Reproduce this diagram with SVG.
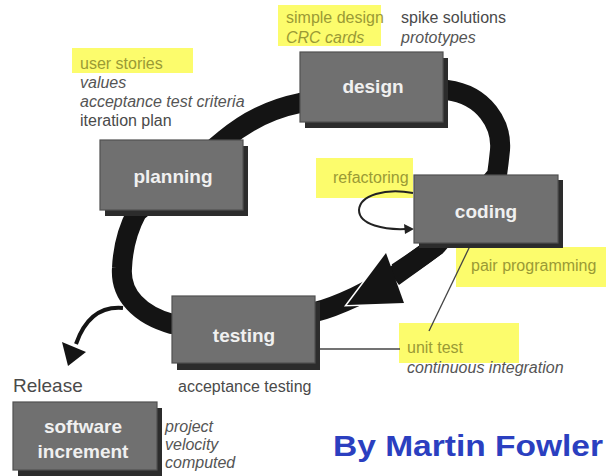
<svg xmlns="http://www.w3.org/2000/svg" width="606" height="476" viewBox="0 0 606 476">
<style>
.box{fill:#707070;stroke:#505050;stroke-width:1.2}
.shadow{fill:#2c2c2c}
.lbl{font-family:"Liberation Sans",Arial,sans-serif;font-weight:bold;font-size:19px;fill:#f0f0f0;text-anchor:middle}
.ann{font-family:"Liberation Sans",Arial,sans-serif;font-size:16px;fill:#4a4a4a}
.big{font-size:19px}
.it{font-style:italic;fill:#555}
.hl{fill:#fcfc6c}
.hlt{fill:#9a9a35}
.band{fill:none;stroke:#141414;stroke-width:20}
.thin{fill:none;stroke:#444;stroke-width:1.3}
</style>
<rect width="606" height="476" fill="#ffffff"/>

<g id="highlights">
<rect class="hl" x="72" y="48" width="121" height="25"/>
<rect class="hl" x="278" y="5" width="103" height="41"/>
<rect class="hl" x="316" y="158" width="97" height="40"/>
<rect class="hl" x="456" y="247" width="150" height="40"/>
<rect class="hl" x="399" y="323" width="120" height="40"/>
</g>

<g id="connectors">
<path class="band" d="M 224,140 C 250,118 275,108 300,103 L 447,90 C 485,95 502,125 500,150 C 499,160 498,168 497,175 L 437,245 C 410,265 380,285 355,297 C 340,304 328,309 315,312 L 172,324 C 140,315 120,295 122,268 C 123,245 130,225 137,212 Z"/>
<polygon points="386,253 404,303 347,305" fill="#141414" stroke="#ffffff" stroke-width="3" stroke-linejoin="miter"/>
<path d="M 437,245 C 420,258 405,268 393,277" fill="none" stroke="#141414" stroke-width="20"/>
<polygon points="386,253 404,303 347,305" fill="#141414"/>
<path d="M 123,308 C 100,306 85,318 76,344" fill="none" stroke="#141414" stroke-width="4"/>
<polygon points="68,366 62,342 86,352" fill="#141414"/>
<path d="M 413,193 C 385,188 360,195 359,210 C 359,225 385,230 406,229" fill="none" stroke="#222" stroke-width="2"/>
<polygon points="414,229 404,224 405,234" fill="#222"/>
<line class="thin" x1="470" y1="246" x2="429" y2="331"/>
<line class="thin" x1="318" y1="349" x2="400" y2="349"/>
</g>

<g id="design">
<rect class="shadow" x="305" y="58" width="143" height="70"/>
<rect class="box" x="300" y="52" width="143" height="70"/>
<text class="lbl" x="373" y="93">design</text>
</g>
<g id="planning">
<rect class="shadow" x="105" y="146" width="143" height="70"/>
<rect class="box" x="100" y="140" width="143" height="70"/>
<text class="lbl" x="173" y="183">planning</text>
</g>
<g id="coding">
<rect class="shadow" x="419" y="180" width="144" height="68"/>
<rect class="box" x="414" y="175" width="144" height="68"/>
<text class="lbl" x="486" y="218">coding</text>
</g>
<g id="testing">
<rect class="shadow" x="177" y="302" width="143" height="68"/>
<rect class="box" x="172" y="296" width="143" height="67"/>
<text class="lbl" x="244" y="342">testing</text>
</g>
<g id="software-increment">
<rect class="shadow" x="18" y="408" width="144" height="68"/>
<rect class="box" x="13" y="402" width="144" height="68"/>
<text class="lbl" x="83" y="433">software</text>
<text class="lbl" x="83" y="458">increment</text>
</g>

<g id="annotations">
<text class="ann hlt" x="80" y="69">user stories</text>
<text class="ann it" x="80" y="88">values</text>
<text class="ann it" x="80" y="107">acceptance test criteria</text>
<text class="ann" x="80" y="126">iteration plan</text>
<text class="ann hlt" x="286" y="23">simple design</text>
<text class="ann hlt" x="286" y="43" font-style="italic">CRC cards</text>
<text class="ann" x="401" y="23">spike solutions</text>
<text class="ann it" x="401" y="43">prototypes</text>
<text class="ann hlt" x="333" y="183">refactoring</text>
<text class="ann hlt" x="471" y="271">pair programming</text>
<text class="ann hlt" x="407" y="353">unit test</text>
<text class="ann it" x="407" y="373">continuous integration</text>
<text class="ann" x="178" y="392">acceptance testing</text>
<text class="ann big" x="13" y="392">Release</text>
<text class="ann it" x="165" y="432">project</text>
<text class="ann it" x="165" y="450">velocity</text>
<text class="ann it" x="165" y="468">computed</text>
<text x="333" y="456" font-family="'Liberation Sans',Arial,sans-serif" font-weight="bold" font-size="30" fill="#2b3fc0" textLength="270" lengthAdjust="spacingAndGlyphs">By Martin Fowler</text>
</g>
</svg>
